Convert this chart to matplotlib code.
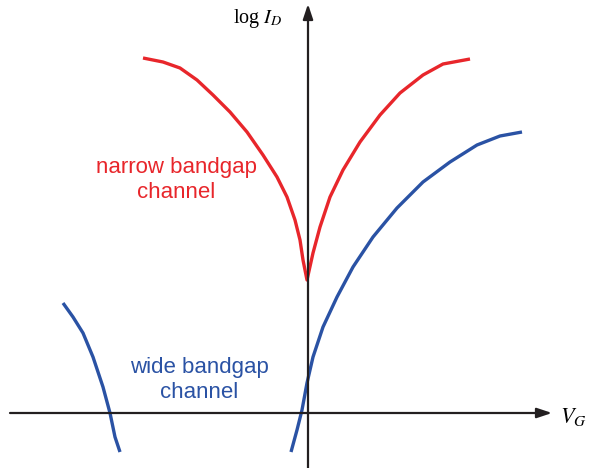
import matplotlib.pyplot as plt

plt.rcParams["mathtext.fontset"] = "stix"

# Schematic transfer curves, coordinates relative to the axis origin
red_x = [-165, -145, -128, -111, -95, -78, -61, -45, -31, -21, -13, -8, -5, -1,
         5, 12, 22, 35, 52, 72, 92, 115, 135, 162]
red_y = [355, 351, 345, 333, 318, 301, 281, 258, 236, 216, 193, 173, 153, 133,
         160, 186, 216, 243, 271, 298, 320, 338, 349, 354]

blue_x = [-17, -11, -6, -1, 5, 15, 29, 45, 65, 89, 115, 142, 169, 192, 214]
blue_y = [-39, -17, 3, 30, 56, 86, 116, 146, 176, 205, 231, 251, 268, 277, 281]

blue_left_x = [-245, -235, -225, -215, -205, -198, -193, -188]
blue_left_y = [110, 96, 80, 56, 26, 0, -24, -39]

RED = "#e8262b"
BLUE = "#2a52a4"

fig = plt.figure(figsize=(5.9, 4.68), dpi=100)
ax = fig.add_axes([0, 0, 1, 1])
ax.set_xlim(-308, 282)
ax.set_ylim(-55, 413)
ax.axis("off")

# axes with arrowheads
arrow = dict(arrowstyle="-|>,head_length=0.9,head_width=0.3", color="#231f20", lw=1.6,
             shrinkA=0, shrinkB=0)
ax.annotate("", xy=(244, 0), xytext=(-298, 0), arrowprops=arrow)
ax.annotate("", xy=(0, 409), xytext=(0, -55), arrowprops=arrow)

line_kw = dict(lw=2.4, solid_capstyle="butt", solid_joinstyle="round")
ax.plot(red_x, red_y, color=RED, **line_kw)
ax.plot(blue_x, blue_y, color=BLUE, **line_kw)
ax.plot(blue_left_x, blue_left_y, color=BLUE, **line_kw)

ax.text(-26, 395, r"log $I_D$", ha="right", va="center", fontsize=14.5,
        family="Liberation Serif")
ax.text(252, -4, r"$V_G$", ha="left", va="center", fontsize=16)

ax.text(-132, 233, "narrow bandgap\nchannel", ha="center", va="center",
        fontsize=16, color=RED, family="Liberation Sans", linespacing=1.3)
ax.text(-109, 33, "wide bandgap\nchannel", ha="center", va="center",
        fontsize=16, color=BLUE, family="Liberation Sans", linespacing=1.3)

fig.savefig("out.png", dpi=100)
